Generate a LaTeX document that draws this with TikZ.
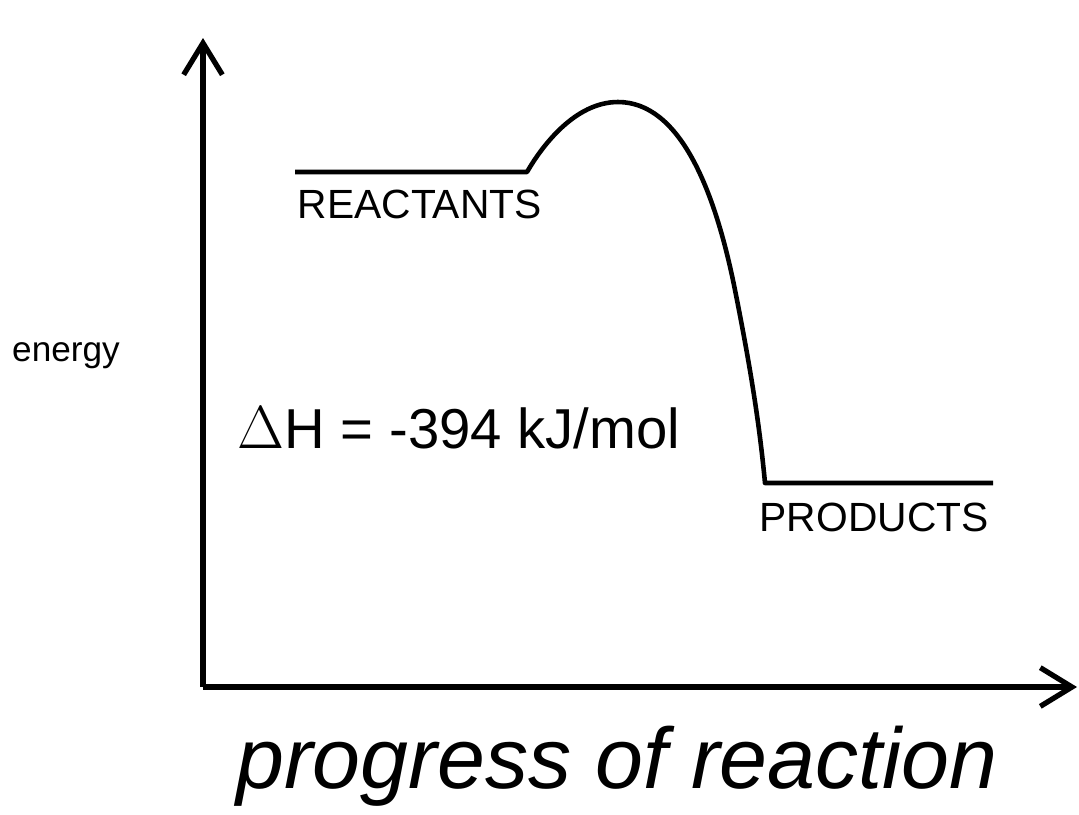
\documentclass[tikz,border=0pt]{standalone}
\usepackage{fontspec}
\setmainfont{Liberation Sans}
\usetikzlibrary{arrows.meta,positioning}

\begin{document}
\begin{tikzpicture}[x=0.01cm, y=-0.01cm,
    axis/.style={line width=1.5pt, -{Straight Barb[length=9pt, width=11pt, line width=1.5pt]}},
    curve/.style={line width=1.3pt, line join=round},
    level label/.style={font=\fontsize{11.6}{14}\selectfont, anchor=north west, inner sep=0pt}]
\useasboundingbox (0,0) rectangle (1079,814);

% Axes
\coordinate (O) at (203,687);
\coordinate (ytip) at (203,38);
\coordinate (xtip) at (1077,687);
\draw[axis] (O) -- (ytip);
\draw[axis] (O) -- (xtip);

% Energy profile
\coordinate (rs) at (295,172);
\coordinate (re) at (527,172);
\coordinate (peak) at (618,102);
\coordinate (fall) at (735,290);
\coordinate (ps) at (765,483);
\coordinate (pe) at (993,483);
\draw[curve] (rs) -- (re)
    .. controls (542,146) and (575,102) .. (peak)
    .. controls (680,102) and (715,190) .. (fall)
    .. controls (752,375) and (760,430) .. (ps) -- (pe);

% Level labels
\node[level label] (reactants) at (297,189) {REACTANTS};
\node[level label] (products) at (759,502) {PRODUCTS};

% Axis labels
\node[font=\fontsize{10}{12}\selectfont] (energy) at (66,356) {energy};
\node[font=\fontsize{24.5}{28}\selectfont\itshape] (progress) at (617,766) {progress of reaction};

% Enthalpy change
\node[font=\fontsize{16}{20}\selectfont, anchor=west, inner sep=0pt] (dH) at (237,428) {$\Delta$H = -394 kJ/mol};

\end{tikzpicture}
\end{document}
